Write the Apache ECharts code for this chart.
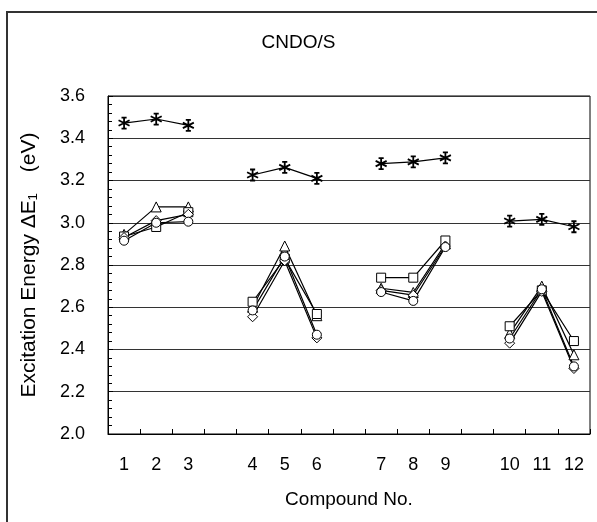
<!DOCTYPE html>
<html>
<head>
<meta charset="utf-8">
<script src="https://cdn.jsdelivr.net/npm/echarts@6/dist/echarts.min.js"></script>
<style>
  html, body { margin: 0; padding: 0; background: #fff; }
  #chart { width: 597px; height: 522px; }
</style>
</head>
<body>
<div id="chart"></div>
<script>
var categories = ['1','2','3','','4','5','6','','7','8','9','','10','11','12'];
var starValues     = [3.472, 3.491, 3.461, null, 3.226, 3.262, 3.210, null, 3.280, 3.288, 3.307, null, 3.008, 3.016, 2.981];
var triangleValues = [2.945, 3.075, 3.075, null, 2.600, 2.890, 2.560, null, 2.690, 2.670, 2.900, null, 2.476, 2.700, 2.375];
var squareValues   = [2.935, 2.980, 3.050, null, 2.626, 2.830, 2.568, null, 2.740, 2.740, 2.916, null, 2.510, 2.680, 2.440];
var diamondValues  = [2.930, 3.010, 3.040, null, 2.555, 2.820, 2.455, null, 2.680, 2.657, 2.890, null, 2.430, 2.675, 2.310];
var circleValues   = [2.915, 3.000, 3.005, null, 2.585, 2.840, 2.470, null, 2.672, 2.630, 2.885, null, 2.452, 2.685, 2.320];
var yTicks = [2.0, 2.2, 2.4, 2.6, 2.8, 3.0, 3.2, 3.4, 3.6];

var FONT = 'Liberation Sans, Arial, sans-serif';
var starPath = 'path://M5,0L5,10M0.7,2.5L9.3,7.5M0.7,7.5L9.3,2.5M3,0L7,0M3,10L7,10';

function mkSeries(name, data, symbol, size, fill, bw) {
  return {
    name: name,
    type: 'line',
    data: data,
    symbol: symbol,
    symbolSize: size,
    connectNulls: false,
    lineStyle: { color: '#000', width: 1.2 },
    itemStyle: { color: fill, borderColor: '#000', borderWidth: bw },
    emphasis: { disabled: true },
    animation: false
  };
}

var chart = echarts.init(document.getElementById('chart'), null, { renderer: 'canvas' });
chart.setOption({
  backgroundColor: '#fff',
  animation: false,
  title: {
    text: 'CNDO/S',
    left: 'center',
    top: 28,
    textStyle: { fontFamily: FONT, fontSize: 19, fontWeight: 'normal', color: '#000' }
  },
  graphic: [{
    type: 'rect',
    shape: { x: 7, y: 12, width: 610, height: 530 },
    style: { fill: 'none', stroke: '#333', lineWidth: 2 },
    silent: true,
    z: -1
  }],
  grid: {
    left: 108, right: 7, top: 96, bottom: 88,
    show: true, borderColor: '#000', borderWidth: 1
  },
  xAxis: {
    type: 'category',
    data: categories,
    boundaryGap: true,
    name: 'Compound No.',
    nameLocation: 'middle',
    nameGap: 56,
    nameTextStyle: { fontFamily: FONT, fontSize: 19, color: '#000' },
    axisLine: { lineStyle: { color: '#000', width: 1 } },
    axisTick: { show: true, inside: true, length: 5, interval: 0, lineStyle: { color: '#000' } },
    axisLabel: { interval: 0, margin: 22, fontFamily: FONT, fontSize: 18, color: '#000' },
    splitLine: { show: false }
  },
  yAxis: {
    type: 'value',
    min: 2.0, max: 3.6, interval: 0.2,
    name: 'Excitation Energy \u0394E\u2081\u3000(eV)',
    nameLocation: 'middle',
    nameGap: 68,
    nameTextStyle: { fontFamily: FONT, fontSize: 21, color: '#000' },
    axisLine: { show: true, lineStyle: { color: '#000', width: 1 } },
    axisTick: { show: true, inside: true, length: 5, lineStyle: { color: '#000' } },
    minorTick: { show: true, splitNumber: 5, length: 4, lineStyle: { color: '#000' } },
    axisLabel: {
      margin: 23, fontFamily: FONT, fontSize: 18, color: '#000',
      formatter: function (v) {
        for (var i = 0; i < yTicks.length; i++) {
          if (Math.abs(yTicks[i] - v) < 1e-6) return yTicks[i].toFixed(1);
        }
        return '';
      }
    },
    splitLine: { show: true, lineStyle: { color: '#333', width: 1 } }
  },
  series: [
    mkSeries('star', starValues, starPath, 11, '#000', 1.8),
    mkSeries('triangle', triangleValues, 'triangle', 10, '#fff', 1),
    mkSeries('square', squareValues, 'rect', 9, '#fff', 1),
    mkSeries('diamond', diamondValues, 'diamond', 10, '#fff', 1),
    mkSeries('circle', circleValues, 'circle', 9, '#fff', 1)
  ]
});
</script>
</body>
</html>
